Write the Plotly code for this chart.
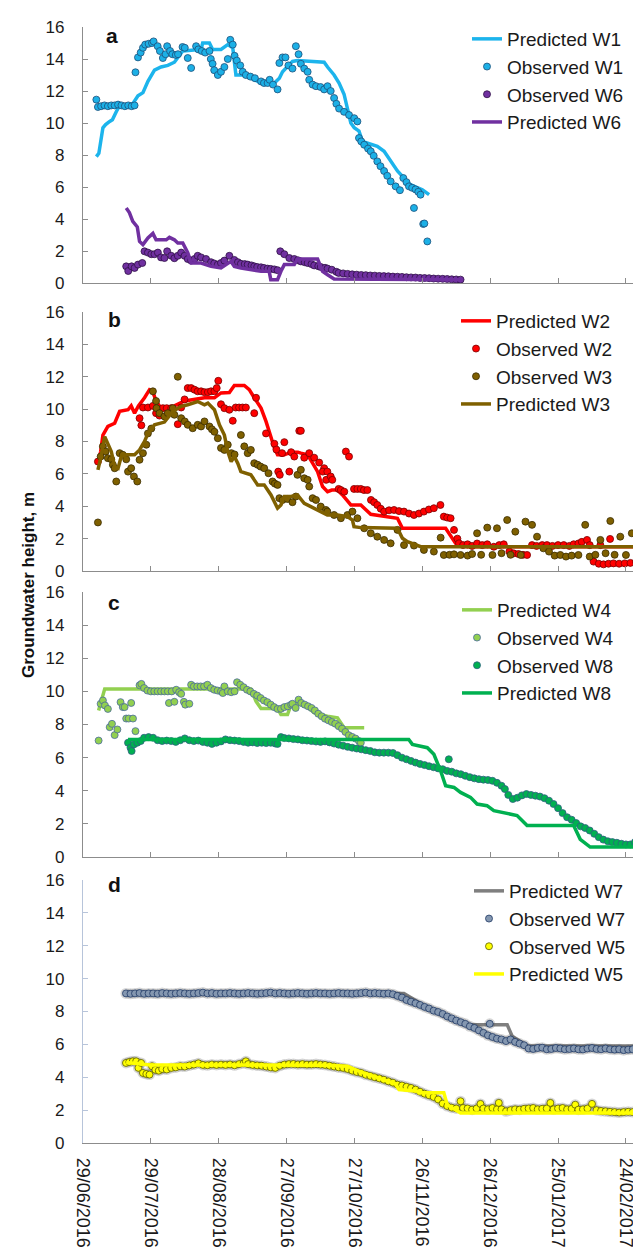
import pandas as pd
import plotly.graph_objects as go

# ---------------- data (day offsets from 29/06/2016, values in m) ----------------
START = "2016-06-29"

tick_days = [0, 30, 60, 90, 120, 150, 180, 210, 240]
tick_labels = ["29/06/2016", "29/07/2016", "28/08/2016", "27/09/2016", "27/10/2016",
               "26/11/2016", "26/12/2016", "25/01/2017", "24/02/2017"]

# Panel a
obs_w1_d = [5.9, 6.6, 8, 9.5, 11, 12.5, 14, 15.5, 17, 18.5, 20, 21.5, 22.8, 23.2, 24.3, 25.5, 26.5, 27.5, 29, 30.5,
            31.2, 33, 34, 35.3, 36.5, 37.2, 38.5, 39.5, 41, 42, 44, 45, 46.3, 47.8, 50, 51, 52.5, 54, 55.9, 56.5,
            57.3, 58, 59.6, 61, 62.5, 64, 65.1, 66.2, 67, 68, 69.5, 70.6, 72, 74, 76, 78.7, 80, 81.6, 82.5, 84,
            86, 86.8, 88.2, 89.5, 90.8, 92.6, 94.1, 95.3, 96.3, 97.8, 99.3, 100, 101.5, 103, 105, 106.6, 108.1,
            109.5, 111, 112, 113.2, 115.4, 117.6, 119.9, 121.3, 122, 123, 124.3, 126, 127.2, 128.5, 130.1, 131.5,
            133.1, 134.5, 136, 138.2, 140.1, 141.6, 143, 144.1, 145.5, 147, 148.2, 149.2, 146.3, 150.4, 150.9, 152.2]
obs_w1_v = [11.46, 11.0, 11.05, 11.1, 11.05, 11.1, 11.1, 11.15, 11.1, 11.05, 11.1, 11.05, 11.1, 13.17, 14.1, 14.4,
            14.7, 14.9, 14.95, 15.0, 15.1, 14.8, 14.5, 14.06, 14.3, 14.8, 14.5, 14.3, 14.25, 14.3, 14.75, 14.7,
            14.06, 13.44, 14.8, 14.6, 14.5, 14.4, 14.5, 14.0, 13.7, 13.3, 13.0, 13.2, 13.5, 14.0, 15.2, 14.9, 14.2,
            13.9, 13.6, 13.2, 13.0, 12.9, 12.8, 12.6, 12.5, 12.5, 12.7, 12.4, 12.1, 13.75, 14.1, 14.1, 13.6, 13.4,
            14.8, 14.3, 13.7, 13.4, 13.2, 12.7, 12.4, 12.3, 12.25, 12.1, 12.3, 12.0, 11.56, 11.2, 10.9, 10.7, 10.5,
            10.3, 10.1, 9.06, 8.85, 8.64, 8.4, 8.23, 7.95, 7.6, 7.3, 7.0, 6.7, 6.35, 6.04, 5.8, 6.56, 6.3, 6.04,
            5.95, 5.85, 5.7, 5.52, 4.69, 3.69, 3.72, 2.6]
pred_w1_d = [5.9, 7, 8.8, 10, 11.8, 13, 14.7, 16.2, 18.4, 22, 24.3, 26.5, 28.7, 31.6, 34.5, 37.5, 40.4, 41.9, 44.1,
             52.2, 52.9, 55.9, 57.3, 61, 64, 66.2, 67.6, 71.3, 75.7, 78.7, 84.6, 86.8, 88.2, 92.6, 94.8, 106.6,
             108.1, 111, 113.2, 115.4, 116.9, 118.4, 119.9, 122, 123.5, 127.2, 130.1, 133.1, 136, 139, 141.2,
             142.7, 144.9, 147.8, 150, 153]
pred_w1_v = [7.9, 8.1, 9.7, 9.9, 10.1, 10.2, 10.7, 11.1, 11.1, 11.2, 11.7, 11.9, 12.6, 13.3, 13.5, 13.6, 13.8, 14.1,
             14.5, 14.6, 15.0, 15.0, 14.6, 14.6, 14.9, 14.7, 13.0, 13.0, 12.7, 12.5, 12.5, 12.8, 13.2, 13.85, 13.9,
             13.8, 13.5, 13.0, 12.5, 11.8, 10.9, 10.0, 9.7, 9.5, 8.85, 8.65, 8.54, 8.23, 7.6, 7.0, 6.67, 6.35, 6.14,
             5.94, 5.83, 5.52]
obs_w6_d = [19.1, 20, 21.5, 22.8, 24.3, 26.2, 27.2, 28.7, 30.2, 31.6, 33.1, 34.5, 36, 37.2, 39, 40.4, 41.9, 43.4,
            44.9, 46.3, 47.8, 49.3, 50.7, 52.2, 54.4, 56.6, 58, 59.6, 61, 62.5, 64.7, 66.9, 68.5, 69.8, 71.5, 72.8,
            74.5, 75.7, 77, 78.7, 80, 81.6, 83, 84.6, 86, 87.2, 89, 91.2, 93.4, 95, 96.3, 98, 99.3, 101, 102.2,
            104, 105.1, 107, 108.1, 110, 112, 113, 115, 117, 119, 121, 123, 125, 127, 129, 131, 133, 135, 137,
            139, 141, 143, 145, 147, 149, 151, 153, 155, 157, 159, 161, 163, 165, 166.9]
obs_w6_v = [1.04, 0.75, 1.04, 0.94, 1.15, 1.25, 1.98, 1.9, 1.8, 1.8, 1.9, 1.6, 1.56, 1.98, 1.7, 1.55, 1.7, 1.9,
            1.7, 1.5, 1.4, 1.5, 1.7, 1.6, 1.5, 1.3, 1.22, 1.15, 1.25, 1.4, 1.7, 1.44, 1.3, 1.2, 1.18, 1.15, 1.1,
            1.04, 1.0, 0.98, 0.94, 0.9, 0.88, 0.85, 0.8, 1.98, 1.8, 1.56, 1.5, 1.42, 1.35, 1.3, 1.25, 1.18, 1.1,
            1.05, 1.0, 0.95, 0.9, 0.83, 0.7, 0.63, 0.6, 0.57, 0.54, 0.52, 0.5, 0.49, 0.47, 0.46, 0.44, 0.43, 0.42,
            0.4, 0.39, 0.38, 0.36, 0.35, 0.34, 0.32, 0.31, 0.3, 0.28, 0.27, 0.26, 0.25, 0.23, 0.22, 0.21]
pred_w6_d = [19.1, 20.5, 22, 24, 25, 26.5, 28.7, 30.9, 32.3, 36.8, 38.2, 40.4, 41.9, 44.1, 46.3, 47.8, 52.2, 56.6,
             61, 65.4, 66.9, 69.8, 78.7, 82.3, 83, 86, 87.5, 89, 93.4, 94.8, 103.7, 105.9, 108.1, 111, 167]
pred_w6_v = [4.69, 4.4, 3.85, 3.5, 2.6, 2.4, 2.81, 3.1, 2.7, 2.7, 2.85, 2.7, 2.5, 2.5, 1.9, 1.25, 1.25, 1.04,
             0.94, 1.35, 1.04, 0.94, 0.73, 0.73, 0.21, 0.21, 0.73, 1.15, 1.15, 1.5, 1.5, 0.73, 0.52, 0.25, 0.2]

# Panel b
obs_w2_d = [6.6, 25, 25.8, 26.5, 28.7, 30.9, 32.3, 33.8, 35.3, 37, 39, 41.9, 43.4, 44.9, 46.3, 47.8, 49.3, 50.7,
            52.2, 53.7, 55.2, 56.6, 58.1, 59.1, 59.8, 61, 62.5, 64.7, 66.2, 67.5, 69, 70.5, 72, 75.7, 76.5, 80.9,
            84.6, 85.5, 86.3, 87, 88, 89, 91.2, 92, 93.4, 95.6, 96.3, 97.8, 100, 102.2, 104.4, 106.6, 106, 107.5,
            108, 109.5, 110.2, 113, 114, 115.5, 116.2, 117.6, 119.8, 121.3, 122.8, 124.2, 125.7, 127.3, 128.7,
            130.1, 131.6, 133.1, 135.3, 137.5, 139.7, 141.9, 144.1, 146.3, 148.5, 150.7, 152.9, 155.1, 158, 159.5,
            161, 162.5, 164, 165.5, 166.2, 168, 170, 172, 174.2, 176.5, 178.7, 181.6, 184, 186, 188.5, 190.4,
            192.5, 194.5, 196.3, 198.5, 200.5, 203, 205.1, 207.5, 210, 212.5, 215, 216.9, 219, 220.5, 222.8, 224,
            225.7, 228, 228.7, 230.1, 232.3, 233, 234.5, 237, 239.5, 242, 244.5, 247, 249]
obs_w2_v = [6.76, 9.44, 9.0, 10.1, 10.1, 10.2, 9.75, 9.6, 10.06, 10.06, 10.06, 9.07, 10.1, 10.6, 11.3, 11.3, 11.2,
            11.1, 11.1, 11.05, 11.05, 11.1, 11.1, 11.3, 11.75, 10.3, 10.06, 9.96, 9.28, 10.1, 10.1, 10.1, 10.1,
            9.75, 10.7, 8.5, 7.86, 7.5, 6.14, 5.94, 7.28, 7.96, 6.14, 7.34, 7.07, 8.66, 8.66, 7.0, 7.28, 7.0, 6.7,
            6.35, 6.14, 5.63, 6.14, 5.84, 5.63, 5.07, 5.0, 4.9, 7.38, 7.07, 5.07, 5.07, 5.07, 5.0, 5.0, 4.39, 4.25,
            4.08, 3.85, 3.67, 3.75, 3.77, 3.7, 3.67, 3.55, 3.46, 3.55, 3.67, 3.8, 3.88, 4.08, 3.36, 3.3, 3.26, 2.54,
            2.0, 1.71, 1.6, 1.65, 1.55, 1.7, 1.6, 1.65, 1.5, 1.6, 1.65, 1.2, 1.09, 1.05, 1.0, 0.99, 1.6, 1.55, 1.6,
            1.6, 1.55, 1.6, 1.6, 1.55, 1.65, 1.7, 1.8, 1.92, 1.6, 0.58, 0.45, 1.6, 0.41, 0.45, 1.98, 0.47, 0.45,
            0.47, 0.5, 0.55, 0.58, 0.6]
pred_w2_d = [6.6, 7.8, 8.8, 11, 14, 16.2, 19.9, 21.3, 22.8, 24.5, 27.2, 29.4, 30.8, 32.3, 34.5, 40.4, 44.9, 49.3,
             53.7, 58.1, 61, 64.7, 66.9, 71.3, 73.5, 75.7, 78.7, 80.9, 83.1, 84.6, 86, 89, 92, 95, 96.3, 99.3,
             101.5, 103.7, 105.9, 108.1, 110, 112.5, 114.7, 118.4, 122.8, 127.2, 139, 141.2, 160.3, 164.7, 169.8,
             251]
pred_w2_v = [6.56, 7.38, 8.4, 8.93, 9.13, 9.86, 9.96, 10.2, 9.75, 10.2, 10.7, 11.2, 11.1, 10.5, 10.06, 10.2, 10.5,
             10.6, 10.7, 10.7, 11.0, 11.03, 11.46, 11.46, 11.2, 10.7, 10.06, 9.24, 8.2, 7.6, 7.18, 7.18, 7.34,
             7.34, 7.28, 7.18, 6.66, 6.14, 5.22, 4.9, 5.0, 5.0, 4.7, 4.08, 4.08, 3.5, 3.26, 2.64, 2.64, 1.71, 1.5,
             1.5]
obs_w3_d = [6.6, 7.8, 8.8, 10, 11, 12.5, 13.2, 14, 14.7, 16.2, 17.6, 19.1, 19.9, 21.3, 22.5, 24, 25, 26.5, 28,
            28.7, 30.2, 30.9, 32.3, 32.5, 33.8, 36, 37.5, 39.7, 40.4, 41.9, 43.4, 45, 46.3, 48.5, 50.7, 52.2, 53.7,
            55.9, 57, 58.1, 59.6, 61, 62.5, 64, 65.6, 67, 69.8, 71.3, 72.8, 74.2, 75.7, 77.2, 78.5, 80.1, 82, 83.8,
            84.8, 86, 86.8, 88.2, 90.4, 92.6, 94.1, 94.8, 96.3, 97.8, 99.3, 100, 101.5, 103, 105.1, 107.4, 108,
            111, 114, 116.9, 119.1, 121.3, 124.3, 127.2, 130.1, 133.1, 136, 139, 141.9, 146.3, 150.7, 155.1,
            158.1, 159.5, 162, 164, 166.9, 170, 172, 174.2, 176, 178.7, 181, 183, 185, 187.5, 189, 191.1, 193.5,
            195.6, 198.5, 200.7, 203.5, 206, 208.5, 211, 213.5, 216, 219, 222, 224, 226.5, 228.7, 231, 233.1, 235,
            237.5, 240, 242.6, 245, 247.8, 249.5]
obs_w3_v = [3.0, 7.07, 7.7, 7.38, 6.97, 6.9, 6.56, 6.35, 5.53, 7.28, 7.18, 6.9, 6.14, 6.35, 5.84, 5.53, 6.87,
            7.28, 7.8, 8.5, 8.8, 11.1, 10.5, 10.06, 9.75, 9.55, 9.75, 10.06, 9.65, 12.0, 9.44, 9.24, 9.03, 8.82,
            9.03, 8.93, 9.24, 8.93, 8.75, 8.6, 8.2, 7.6, 7.48, 7.8, 7.28, 7.2, 8.4, 7.7, 7.28, 7.48, 6.66, 6.56,
            6.45, 6.35, 6.04, 5.53, 5.4, 5.32, 4.5, 4.39, 4.45, 4.25, 4.6, 5.94, 6.25, 5.73, 5.63, 5.22, 4.5, 4.39,
            3.98, 3.77, 3.67, 3.46, 3.26, 3.46, 3.67, 3.26, 2.64, 2.33, 2.12, 1.92, 1.71, 2.54, 1.6, 1.57, 1.3,
            1.2, 2.06, 0.99, 1.0, 1.03, 0.99, 0.95, 1.05, 2.33, 1.0, 2.68, 0.99, 2.64, 1.1, 3.15, 1.0, 2.43, 0.99,
            3.05, 2.85, 2.12, 1.4, 1.2, 0.95, 0.99, 0.89, 0.95, 0.99, 2.85, 0.89, 1.0, 1.92, 1.1, 3.09, 1.0, 2.12,
            0.99, 2.33, 1.6, 0.99, 1.3]
pred_w3_d = [6.6, 7.8, 9.6, 11, 12.5, 14, 15.5, 16.9, 19.1, 22.8, 25, 27.2, 28.7, 31.6, 36, 39.7, 43.4, 46.3,
             48.5, 50.7, 53.7, 55.2, 58.1, 60.3, 62.5, 64, 65.5, 66.9, 68.4, 69.8, 74.2, 77.2, 80.1, 83.1, 86,
             87.5, 89, 92, 94.8, 97.8, 100.7, 105.1, 108, 112.5, 116.9, 119.1, 119.8, 122.8, 139, 141.2, 143.4,
             149.3, 251]
pred_w3_v = [6.25, 6.97, 8.3, 7.8, 7.38, 6.45, 6.35, 7.07, 7.18, 7.18, 7.48, 8.0, 8.5, 9.03, 9.2, 9.86, 10.17,
             10.27, 10.37, 10.47, 10.27, 10.37, 9.96, 9.03, 8.4, 7.38, 6.76, 7.07, 6.66, 6.14, 5.94, 5.32, 5.32,
             4.7, 3.88, 4.08, 4.6, 4.6, 4.7, 4.18, 3.98, 3.67, 3.46, 3.46, 3.36, 3.15, 2.74, 2.68, 2.64, 2.02,
             1.81, 1.5, 1.5]

# Panel c
obs_w4_d = [6.9, 7.8, 8.8, 9.7, 11, 11.8, 12.8, 14, 15.2, 16.6, 17.6, 18.4, 19.1, 20.2, 21.3, 22.1, 23.2, 25,
            25.8, 27, 28.5, 30, 31.5, 33, 34.5, 36, 37.5, 38, 39.2, 40.4, 41.2, 42.5, 43.4, 44.6, 45.2, 47, 47.8,
            49, 50.5, 52, 53.5, 55, 56.5, 58, 59.5, 61, 61.8, 62.5, 64, 65.5, 67, 68.1, 69.5, 71, 72.5, 74, 75.5,
            77, 78.5, 80, 81.5, 83, 84.5, 86, 87.5, 89, 90.5, 92, 92.6, 94, 95.3, 96.5, 98, 99.5, 101, 102.5, 104,
            105.5, 107, 108.5, 110, 111.5, 113, 114.5, 116, 117.5, 119, 120.5, 122, 122.8]
obs_w4_v = [7.03, 9.25, 9.45, 9.15, 8.94, 7.84, 8.04, 7.36, 7.7, 9.35, 9.05, 9.05, 8.36, 8.36, 9.3, 8.36, 7.6,
            10.37, 10.45, 10.2, 10.05, 10.0, 10.0, 10.0, 10.0, 10.0, 10.0, 9.3, 10.0, 9.37, 10.1, 9.95, 9.85, 9.37,
            9.2, 9.25, 10.4, 10.3, 10.3, 10.3, 10.3, 10.4, 10.2, 10.1, 10.05, 10.0, 9.9, 10.3, 10.0, 9.95, 10.0,
            10.55, 10.4, 10.25, 10.1, 10.0, 9.85, 9.75, 9.6, 9.45, 9.35, 9.2, 9.05, 8.94, 8.95, 9.05, 9.1, 9.2,
            9.25, 9.0, 9.5, 9.3, 9.2, 9.1, 9.0, 8.85, 8.65, 8.5, 8.35, 8.25, 8.15, 8.05, 7.9, 7.75, 7.55, 7.35,
            7.25, 7.15, 7.0, 6.9]
pred_w4_d = [6.9, 8.8, 9.6, 74.2, 76.5, 78.7, 86, 87.5, 90.4, 92, 96.3, 99, 102.2, 108, 112.5, 115.4, 124.3]
pred_w4_v = [8.84, 9.9, 10.15, 10.15, 9.4, 8.97, 8.97, 8.6, 8.6, 9.2, 9.25, 9.1, 8.7, 8.5, 8.4, 7.8, 7.8]
obs_w8_d = [19.9, 21, 21.5, 22.5, 24, 25.5, 27, 29, 31, 33, 35, 37, 39, 41, 43, 45, 47, 49, 51, 53, 55, 57, 59,
            61, 63, 65, 67, 69, 71, 73, 75, 77, 79, 81, 83, 85, 86, 87.5, 89, 91, 93, 95, 97, 99, 101, 103, 105,
            107, 109, 111, 113, 115, 117, 119, 121, 123, 125, 127, 129, 131, 133, 135, 137, 139, 141, 143, 145,
            147, 149, 151, 153, 155, 157, 159, 161.7, 161, 163, 165, 167, 169, 171, 173, 175, 177, 179, 181, 183,
            185, 186.5, 188, 190, 192, 194, 196, 198, 200, 202, 204, 206, 208, 210, 212, 214, 216, 218, 220, 222,
            224, 226, 228, 230, 232, 234, 236, 238, 240, 242, 244, 246, 248, 249.5]
obs_w8_v = [6.9, 6.6, 6.4, 6.8, 6.9, 7.0, 7.2, 7.24, 7.2, 7.05, 7.0, 7.03, 7.0, 6.95, 7.05, 7.16, 7.05, 7.0, 7.03,
            6.95, 6.9, 6.83, 6.9, 6.98, 7.1, 7.05, 7.03, 7.0, 6.95, 6.9, 6.92, 6.88, 6.9, 6.88, 6.9, 6.85, 6.83,
            7.24, 7.18, 7.16, 7.12, 7.1, 7.05, 7.03, 7.0, 6.97, 6.95, 6.98, 6.92, 6.85, 6.78, 6.72, 6.65, 6.6,
            6.55, 6.5, 6.45, 6.4, 6.32, 6.3, 6.3, 6.3, 6.28, 6.15, 6.0, 5.9, 5.8, 5.7, 5.62, 5.55, 5.48, 5.42,
            5.35, 5.3, 5.9, 5.2, 5.15, 5.05, 5.0, 4.9, 4.82, 4.75, 4.7, 4.67, 4.65, 4.6, 4.48, 4.3, 4.1, 3.75, 3.5,
            3.58, 3.72, 3.8, 3.75, 3.7, 3.65, 3.55, 3.4, 3.2, 2.95, 2.65, 2.4, 2.25, 2.05, 1.85, 1.75, 1.6, 1.4,
            1.2, 1.05, 0.95, 0.9, 0.86, 0.8, 0.76, 0.76, 0.9, 1.0, 1.1, 1.17]
pred_w8_d = [19.9, 144, 145.6, 152.2, 155.1, 158.1, 160.3, 164, 166.9, 171.3, 174.2, 178.6, 181.6, 191.9, 196.3,
             216.9, 219.8, 224.2, 251]
pred_w8_v = [7.1, 7.1, 6.8, 6.6, 6.2, 5.2, 4.3, 4.2, 3.9, 3.6, 3.2, 3.1, 2.8, 2.5, 1.9, 1.9, 1.07, 0.6, 0.6]

# Panel d
obs_w7_d = [19, 21, 23, 25, 27, 29, 31, 33, 35, 37, 39, 41, 43, 45, 47, 49, 51, 53, 55, 57, 59, 61, 63, 65, 67,
            69, 71, 73, 75, 77, 79, 81, 83, 85, 87, 89, 91, 93, 95, 97, 99, 101, 103, 105, 107, 109, 111, 113, 115,
            117, 119, 121, 123, 125, 127, 129, 131, 133, 135, 137, 139, 141, 143, 145, 147, 149, 151, 153, 155,
            157, 159, 161, 163, 165, 167, 169, 171, 173, 175, 177, 179, 179.8, 181, 183, 185, 187, 189, 191, 193,
            195, 197, 199, 201, 203, 205, 207, 209, 211, 213, 215, 217, 219, 221, 223, 225, 227, 229, 231, 233,
            235, 237, 239, 241, 243, 245, 247, 249]
obs_w7_v = [9.1, 9.08, 9.1, 9.12, 9.08, 9.1, 9.1, 9.08, 9.12, 9.1, 9.08, 9.1, 9.12, 9.1, 9.08, 9.1, 9.12, 9.15,
            9.1, 9.12, 9.08, 9.1, 9.1, 9.12, 9.1, 9.08, 9.1, 9.12, 9.1, 9.08, 9.1, 9.12, 9.15, 9.1, 9.12, 9.1,
            9.08, 9.1, 9.12, 9.1, 9.08, 9.1, 9.12, 9.1, 9.1, 9.08, 9.1, 9.12, 9.1, 9.1, 9.08, 9.1, 9.12, 9.15, 9.1,
            9.12, 9.1, 9.08, 9.1, 9.05, 8.95, 8.85, 8.7, 8.6, 8.5, 8.4, 8.28, 8.18, 8.05, 7.97, 7.85, 7.7, 7.58,
            7.45, 7.35, 7.25, 7.1, 7.0, 6.85, 6.7, 6.55, 7.25, 6.45, 6.35, 6.3, 6.2, 6.3, 6.15, 6.05, 5.95, 5.75,
            5.72, 5.78, 5.8, 5.7, 5.72, 5.78, 5.75, 5.7, 5.72, 5.75, 5.7, 5.69, 5.75, 5.78, 5.72, 5.7, 5.75, 5.7,
            5.68, 5.7, 5.65, 5.68, 5.7, 5.62, 5.6, 5.58]
pred_w7_d = [19.1, 141.9, 146.3, 152.2, 158.1, 164, 169.8, 187.5, 189.7, 196.3, 251]
pred_w7_v = [9.1, 9.1, 8.73, 8.22, 7.82, 7.41, 7.2, 7.2, 6.5, 5.9, 5.9]
obs_w5_d = [19, 20.5, 22, 23.5, 24.5, 25.7, 26.5, 28, 29.4, 30.5, 32, 33.5, 35, 37, 39, 41, 43, 45, 47, 49, 51, 53,
            55, 57, 59, 61, 63, 65, 67, 69, 71, 72, 73, 75, 77, 79, 81, 83, 85, 87, 89, 91, 93, 95, 97, 99, 101,
            103, 105, 107, 109, 111, 113, 115, 117, 119, 121, 123, 125, 127, 129, 131, 133, 135, 137, 139, 141,
            143, 145, 147, 149, 151, 153, 155, 157, 159, 161, 163, 165, 166.9, 168, 170, 172, 174, 175.7, 177,
            179, 181, 183, 183.8, 185, 187, 189, 191, 193, 195, 197, 199, 201, 203, 205, 206.6, 208, 210, 212,
            214, 216, 217.6, 219, 221, 223, 225, 227, 229, 231, 233, 235, 237, 239, 241, 243, 245, 246.3, 247.5,
            249]
obs_w5_v = [4.87, 4.93, 4.97, 4.97, 4.57, 4.87, 4.26, 4.2, 4.16, 4.67, 4.45, 4.4, 4.5, 4.47, 4.57, 4.6, 4.67,
            4.65, 4.72, 4.77, 4.85, 4.75, 4.73, 4.78, 4.75, 4.77, 4.75, 4.78, 4.73, 4.8, 4.85, 4.97, 4.8, 4.75,
            4.72, 4.7, 4.65, 4.6, 4.57, 4.7, 4.77, 4.8, 4.81, 4.78, 4.8, 4.77, 4.78, 4.8, 4.77, 4.75, 4.7, 4.65,
            4.6, 4.57, 4.5, 4.4, 4.32, 4.26, 4.15, 4.08, 4.0, 3.93, 3.85, 3.75, 3.67, 3.55, 3.5, 3.42, 3.35, 3.25,
            3.12, 3.0, 2.9, 2.8, 2.65, 2.4, 2.25, 2.15, 2.1, 2.54, 2.13, 2.1, 2.03, 2.1, 2.38, 2.1, 2.05, 2.13,
            2.05, 2.44, 2.05, 1.93, 2.0, 2.05, 2.03, 2.08, 2.1, 2.13, 2.05, 2.08, 2.1, 2.44, 2.05, 2.1, 2.13, 2.05,
            2.08, 2.33, 2.03, 2.05, 2.1, 2.38, 2.0, 1.95, 1.93, 1.9, 1.88, 1.85, 1.88, 1.9, 1.88, 1.9, 2.13, 1.85,
            1.83]
pred_w5_d = [19.1, 30, 108, 116.9, 122.8, 130.1, 136, 138, 139.7, 148, 148.5, 159.5, 161, 166.9, 251]
pred_w5_v = [4.9, 4.75, 4.73, 4.67, 4.32, 3.96, 3.7, 3.6, 3.25, 3.15, 3.05, 3.05, 2.33, 1.83, 1.83]


def to_dates(days):
    return pd.to_datetime(START) + pd.to_timedelta(days, unit="D")


FONT = "Arial, Liberation Sans, sans-serif"
AX_GREY = "#8c8c8c"

fig = go.Figure()


def add_line(days, vals, name, color, ax, legend):
    fig.add_trace(go.Scatter(x=to_dates(days), y=vals, mode="lines", name=name,
                             line=dict(color=color, width=3.5), xaxis=ax[0], yaxis=ax[1],
                             legend=legend))


def add_dots(days, vals, name, color, edge, ax, legend, shadow=False):
    if shadow:
        fig.add_trace(go.Scatter(x=to_dates(days), y=vals, mode="markers", showlegend=False,
                                 marker=dict(size=11, color="rgba(90,90,90,0.25)", line=dict(width=0)),
                                 xaxis=ax[0], yaxis=ax[1], hoverinfo="skip"))
    fig.add_trace(go.Scatter(x=to_dates(days), y=vals, mode="markers", name=name,
                             marker=dict(size=7, color=color, line=dict(color=edge, width=0.8)),
                             xaxis=ax[0], yaxis=ax[1], legend=legend))


A = ("x", "y")
B = ("x2", "y2")
C = ("x3", "y3")
D = ("x4", "y4")

add_line(pred_w1_d, pred_w1_v, "Predicted W1", "#1cb4ec", A, "legend")
add_dots(obs_w1_d, obs_w1_v, "Observed W1", "#1cb0e6", "#1d4f7a", A, "legend")
add_dots(obs_w6_d, obs_w6_v, "Observed W6", "#7030a0", "#2e1045", A, "legend")
add_line(pred_w6_d, pred_w6_v, "Predicted W6", "#7030a0", A, "legend")

add_line(pred_w2_d, pred_w2_v, "Predicted W2", "#ff0000", B, "legend2")
add_dots(obs_w2_d, obs_w2_v, "Observed W2", "#ff0000", "#7a0000", B, "legend2")
add_dots(obs_w3_d, obs_w3_v, "Observed W3", "#7f6000", "#3a2c00", B, "legend2")
add_line(pred_w3_d, pred_w3_v, "Predicted W3", "#7f6000", B, "legend2")

add_line(pred_w4_d, pred_w4_v, "Predicted W4", "#92d050", C, "legend3")
add_dots(obs_w4_d, obs_w4_v, "Observed W4", "#92d050", "#4a6aa0", C, "legend3")
add_dots(obs_w8_d, obs_w8_v, "Observed W8", "#00b050", "#2f5f80", C, "legend3")
add_line(pred_w8_d, pred_w8_v, "Predicted W8", "#00b050", C, "legend3")

add_line(pred_w7_d, pred_w7_v, "Predicted W7", "#7f7f7f", D, "legend4")
add_dots(obs_w7_d, obs_w7_v, "Observed W7", "#8497b0", "#1f3864", D, "legend4", shadow=True)
add_dots(obs_w5_d, obs_w5_v, "Observed W5", "#ffff00", "#5a5a00", D, "legend4", shadow=True)
add_line(pred_w5_d, pred_w5_v, "Predicted W5", "#ffff00", D, "legend4")

W, H = 641, 1247
L, R, T, Bm = 75, 0, 19, 112
plot_h = H - T - Bm


def py(px):
    return (H - Bm - px) / plot_h


def pxx(px):
    return (px - L) / (W - L - R)


domains = [(py(275), py(19)), (py(563), py(304)), (py(849), py(584)), (py(1135), py(872))]
x_range = [to_dates(0), to_dates(250.2)]
tick_vals = list(to_dates(tick_days))

layout = dict(
    width=W, height=H, margin=dict(l=L, r=R, t=T, b=Bm, autoexpand=False),
    paper_bgcolor="white", plot_bgcolor="white",
    font=dict(family=FONT, size=17, color="#1a1a1a"),
    hovermode=False,
)

for i, dom in enumerate(domains):
    sfx = "" if i == 0 else str(i + 1)
    last = i == 3
    ycol = "#b7c4da" if last else AX_GREY
    layout["xaxis" + sfx] = dict(
        type="date", range=x_range, domain=[0, 1], anchor="y" + sfx,
        tickmode="array", tickvals=tick_vals, ticktext=tick_labels,
        showticklabels=last, tickangle=90, ticks="inside", ticklen=5, tickcolor=AX_GREY,
        showline=True, linecolor=AX_GREY, linewidth=1.2, showgrid=False, zeroline=False,
        tickfont=dict(size=18, family=FONT, color="#1a1a1a"), ticklabelstandoff=10, automargin=False,
    )
    layout["yaxis" + sfx] = dict(
        range=[0, 16], domain=list(dom), anchor="x" + sfx, tickmode="linear", tick0=0, dtick=2,
        ticks="inside", ticklen=5, tickcolor=ycol, showline=True, linecolor=ycol, linewidth=1.2,
        showgrid=False, zeroline=False, tickfont=dict(size=17, family=FONT, color="#1a1a1a"),
        ticklabelstandoff=14, automargin=False,
    )

leg_pos = [(459, 12), (448, 294), (449, 583), (461, 864)]
for i, (lx, ly) in enumerate(leg_pos):
    key = "legend" if i == 0 else "legend" + str(i + 1)
    layout[key] = dict(x=pxx(lx), y=py(ly), xanchor="left", yanchor="top",
                       bgcolor="rgba(0,0,0,0)", borderwidth=0,
                       font=dict(family=FONT, size=19, color="#1a1a1a"),
                       traceorder="normal", itemsizing="trace")

annotations = []
for lab, (lx, ly) in zip(["a", "b", "c", "d"], [(104, 28), (106, 311), (106, 594), (106, 876)]):
    annotations.append(dict(text="<b>" + lab + "</b>", x=pxx(lx), y=py(ly), xref="paper", yref="paper",
                            showarrow=False, font=dict(family=FONT, size=21, color="#111111"),
                            xanchor="center", yanchor="middle"))
annotations.append(dict(text="<b>Groundwater height, m</b>", x=pxx(20), y=py(577), xref="paper",
                        yref="paper", showarrow=False, textangle=-90,
                        font=dict(family=FONT, size=17, color="#111111"),
                        xanchor="center", yanchor="middle"))
layout["annotations"] = annotations

fig.update_layout(**layout)
fig.write_html("out.html")
